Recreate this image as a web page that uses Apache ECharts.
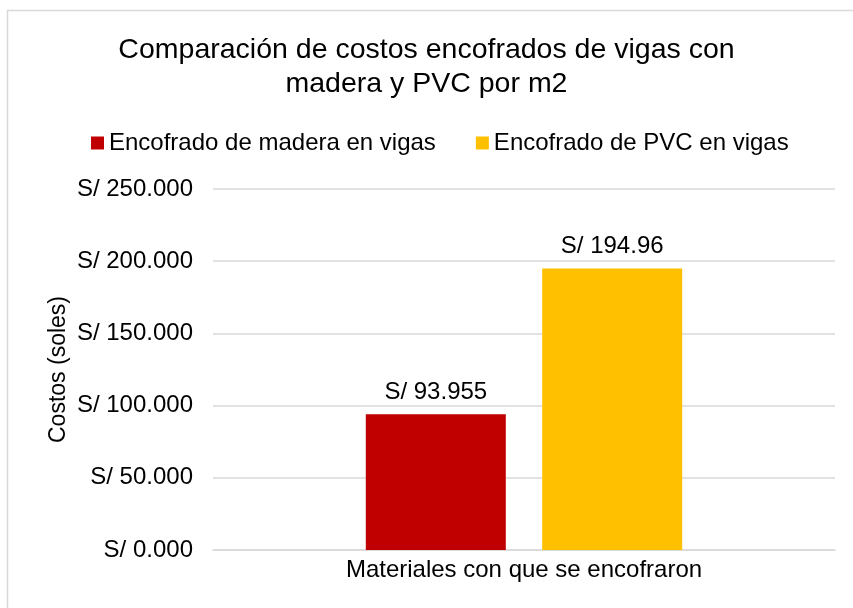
<!DOCTYPE html>
<html>
<head>
<meta charset="utf-8">
<script src="https://cdn.jsdelivr.net/npm/echarts@6/dist/echarts.min.js"></script>
<style>
  html, body { margin: 0; padding: 0; background: #fff; }
  #chart { width: 853px; height: 608px; }
</style>
</head>
<body>
<div id="chart"></div>
<script>
// datos del gráfico
const categories = ['Materiales con que se encofraron']
const seriesNames = ['Encofrado de madera en vigas', 'Encofrado de PVC en vigas']
const maderaValues = [93.955]
const pvcValues = [194.96]
const barLabels = ['S/ 93.955', 'S/ 194.96']
const tickLabels = ['S/ 0.000', 'S/ 50.000', 'S/ 100.000', 'S/ 150.000', 'S/ 200.000', 'S/ 250.000']

const font = 'Liberation Sans, Arial, sans-serif'
const myChart = echarts.init(document.getElementById('chart'))

myChart.setOption({
  animation: false,
  textStyle: { fontFamily: font },
  title: {
    text: 'Comparación de costos encofrados de vigas con\nmadera y PVC por m2',
    left: 'center',
    top: 28,
    textStyle: { fontSize: 28.5, fontWeight: 'normal', color: '#000', lineHeight: 34, fontFamily: font }
  },
  legend: {
    top: 126,
    left: 86,
    itemWidth: 13,
    itemHeight: 13,
    itemGap: 40,
    icon: 'rect',
    textStyle: { fontSize: 24, color: '#000', fontFamily: font },
    data: seriesNames
  },
  graphic: [
    {
      type: 'rect',
      shape: { x: 7.5, y: 10.5, width: 900, height: 700 },
      style: { fill: 'none', stroke: '#d9d9d9', lineWidth: 1.5 },
      silent: true
    }
  ],
  grid: { left: 213, right: 18, top: 189, bottom: 58 },
  xAxis: {
    type: 'category',
    data: categories,
    axisTick: { show: false },
    axisLine: { lineStyle: { color: '#d9d9d9', width: 1.5 } },
    axisLabel: { fontSize: 24, color: '#000', margin: 8, fontFamily: font }
  },
  yAxis: {
    type: 'value',
    min: 0,
    max: 250,
    interval: 50,
    name: 'Costos (soles)',
    nameLocation: 'middle',
    nameGap: 143,
    nameMoveOverlap: false,
    nameRotate: 90,
    nameTextStyle: { fontSize: 23, color: '#000', fontFamily: font },
    axisLine: { show: false },
    axisTick: { show: false },
    splitLine: { lineStyle: { color: '#d9d9d9', width: 1.5 } },
    axisLabel: {
      fontSize: 24,
      color: '#000',
      margin: 20,
      fontFamily: font,
      formatter: function (v) { return tickLabels[Math.round(v / 50)] }
    }
  },
  series: [
    {
      name: seriesNames[0],
      type: 'bar',
      data: maderaValues,
      barWidth: 140,
      barGap: '26%',
      itemStyle: { color: '#c00000' },
      label: {
        show: true, position: 'top', distance: 10, fontSize: 24, color: '#000', fontFamily: font,
        formatter: function () { return barLabels[0] }
      }
    },
    {
      name: seriesNames[1],
      type: 'bar',
      data: pvcValues,
      barWidth: 140,
      itemStyle: { color: '#ffc000' },
      label: {
        show: true, position: 'top', distance: 10, fontSize: 24, color: '#000', fontFamily: font,
        formatter: function () { return barLabels[1] }
      }
    }
  ]
})
</script>
</body>
</html>
